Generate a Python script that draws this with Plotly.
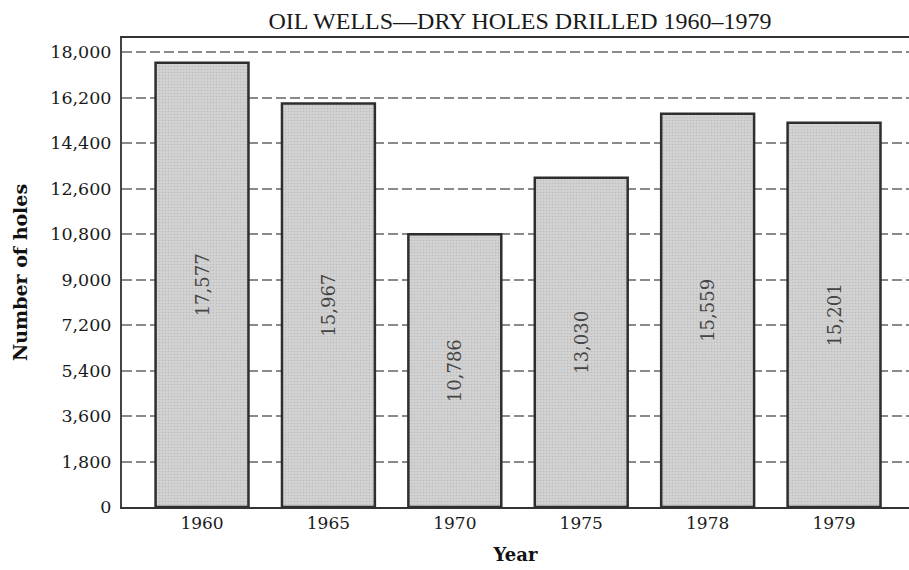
import plotly.graph_objects as go

years = ["1960", "1965", "1970", "1975", "1978", "1979"]
dry_holes = [17577, 15967, 10786, 13030, 15559, 15201]
y_ticks = [0, 1800, 3600, 5400, 7200, 9000, 10800, 12600, 14400, 16200, 18000]
y_tick_labels = [f"{v:,}" for v in y_ticks]
bar_labels = [f"{v:,}" for v in dry_holes]

fig = go.Figure()
fig.add_trace(go.Bar(
    x=years,
    y=dry_holes,
    width=0.735,
    text=bar_labels,
    textposition="inside",
    insidetextanchor="middle",
    textangle=-90,
    constraintext="none",
    textfont=dict(family="DejaVu Serif", size=18, color="#444444"),
    marker=dict(
        color="#cdcdcd",
        line=dict(color="#2e2e2e", width=2.5),
        pattern=dict(shape=".", fgcolor="#a8a8a8", bgcolor="#d2d2d2", size=3, solidity=0.25),
    ),
    hoverinfo="x+y",
))

fig.update_layout(
    width=909,
    height=570,
    margin=dict(l=122, r=0, t=38, b=63, autoexpand=False),
    paper_bgcolor="white",
    plot_bgcolor="white",
    showlegend=False,
    title=dict(
        text="OIL WELLS\u2014DRY HOLES DRILLED 1960\u20131979",
        font=dict(family="Liberation Serif", size=24, color="#1a1a1a"),
        x=0.572, xanchor="center", xref="container",
        y=0.964, yanchor="middle", yref="container",
    ),
    xaxis=dict(
        type="category",
        range=[-0.633, 5.593],
        showline=True, linecolor="#333", linewidth=2, mirror=True,
        showgrid=False, ticks="",
        automargin=False,
        tickfont=dict(family="DejaVu Serif", size=17, color="#1a1a1a"),
        title=dict(text="<b>Year</b>", font=dict(family="DejaVu Serif", size=18, color="#111"), standoff=16),
    ),
    yaxis=dict(
        range=[0, 18554],
        tickvals=y_ticks,
        ticktext=y_tick_labels,
        showline=True, linecolor="#444", linewidth=2,
        showgrid=True, gridcolor="#8a8a8a", gridwidth=2, griddash="10px,4px",
        zeroline=False, ticks="",
        automargin=False,
        ticklabelstandoff=5,
        tickfont=dict(family="DejaVu Serif", size=17.5, color="#1a1a1a"),
        title=dict(text="<b>Number of holes</b>", font=dict(family="DejaVu Serif", size=19, color="#111"), standoff=18),
    ),
)

fig.write_html("out.html", config={"displayModeBar": False},
               post_script="document.body.style.margin='0';")
